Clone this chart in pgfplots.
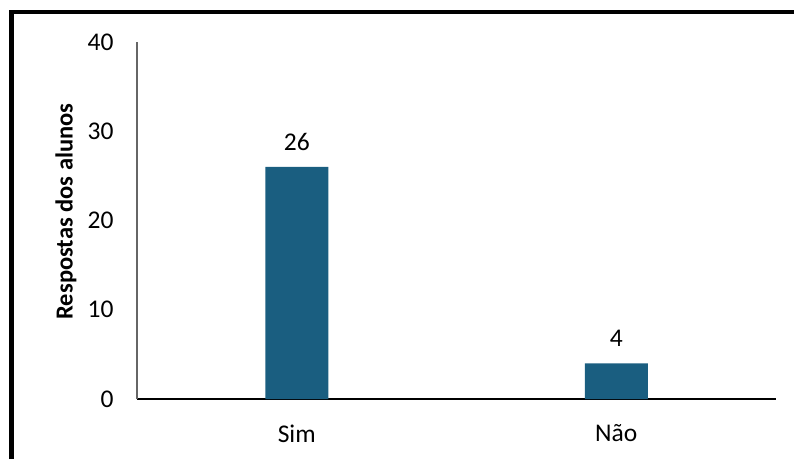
\documentclass[border=0pt]{standalone}
\usepackage{fontspec}
\setmainfont{Carlito}
\usepackage{pgfplots}
\pgfplotsset{compat=1.18}
\definecolor{barc}{HTML}{1A5E80}
\begin{document}
\begin{tikzpicture}
\useasboundingbox (0pt,0pt) rectangle (794pt,459pt);
\draw[line width=4pt] (9pt,446.5pt) -- (794pt,446.5pt);
\draw[line width=5pt] (11.5pt,0pt) -- (11.5pt,448.5pt);
\begin{axis}[
  at={(137pt,60pt)}, anchor=south west,
  scale only axis, width=639pt, height=357pt,
  xmin=-0.5, xmax=1.5, ymin=0, ymax=40,
  axis x line=bottom, axis y line=left,
  axis line style={-},
  x axis line style={black, line width=1.3pt},
  y axis line style={gray!80!black, line width=1.3pt},
  xtick={0,1}, xticklabels={Sim,Não},
  ytick={0,10,20,30,40},
  major tick length=0pt,
  tick label style={font=\fontsize{25.5}{30}\selectfont},
  /pgf/number format/assume math mode=true,
  yticklabel style={xshift=-20pt},
  xticklabel style={yshift=-22pt},
  ylabel={\bfseries Respostas dos alunos},
  ylabel style={font=\fontsize{24.5}{29}\selectfont, at={(axis description cs:0,0.5)}, anchor=south, yshift=57pt, xshift=9pt},
  ybar, bar width=63pt,
  nodes near coords,
  every node near coord/.append style={font=\fontsize{25.5}{30}\selectfont, yshift=13pt},
]
\addplot[fill=barc, draw=none] coordinates {(0,26) (1,4)};
\end{axis}
\end{tikzpicture}
\end{document}
